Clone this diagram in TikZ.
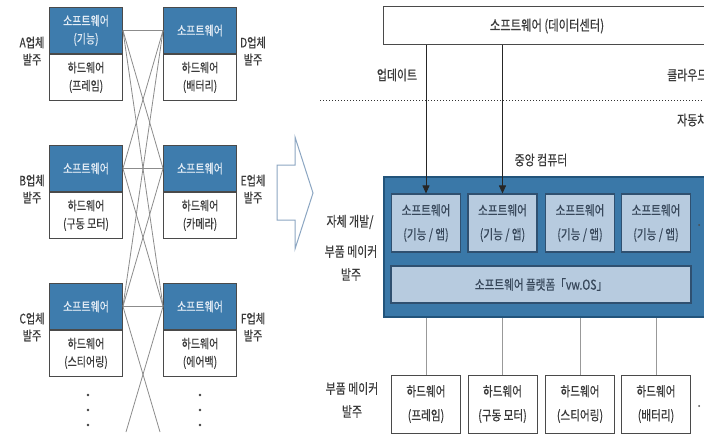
\documentclass[tikz,border=0pt]{standalone}
\usepackage{fontspec}
\setmainfont[FakeStretch=0.78,FakeBold=0.4]{Noto Sans CJK KR}
\usetikzlibrary{arrows.meta}
\definecolor{swblue}{HTML}{3E7CAD}
\definecolor{swtext}{HTML}{E3ECF5}
\definecolor{boxline}{HTML}{4A4A4A}
\definecolor{txtgrey}{HTML}{3A3A3A}
\definecolor{xgrey}{HTML}{8C8C8C}
\definecolor{bigblue}{HTML}{3A78A8}
\definecolor{bigline}{HTML}{22547B}
\definecolor{lightbox}{HTML}{B7CBDF}
\definecolor{lightline}{HTML}{2F5070}
\definecolor{lighttext}{HTML}{37475A}
\definecolor{arrowline}{HTML}{8CA6C2}
\tikzset{
  lswbox/.style={draw=boxline, line width=0.9pt, fill=swblue, text=swtext, minimum width=73pt, minimum height=46pt, inner sep=0pt, align=center, font=\fontsize{12.8}{18}\selectfont, anchor=north},
  lhwbox/.style={draw=boxline, line width=0.9pt, fill=white, text=txtgrey, minimum width=73pt, minimum height=46pt, inner sep=0pt, align=center, font=\fontsize{12.8}{18}\selectfont, anchor=north},
  lbl/.style={text=txtgrey, align=center, inner sep=0pt, font=\fontsize{13}{17}\selectfont},
  rlbl/.style={text=txtgrey, align=center, inner sep=0pt, font=\fontsize{14}{23}\selectfont},
  xline/.style={draw=xgrey, line width=0.8pt},
  topbox/.style={draw=boxline, line width=1pt, fill=white, text=txtgrey, minimum width=328pt, minimum height=38pt, inner sep=0pt, font=\fontsize{14.5}{16}\selectfont},
  bigbox/.style={draw=bigline, line width=1.6pt, fill=bigblue, minimum width=328pt, minimum height=140pt, inner sep=0pt},
  appbox/.style={draw=lightline, line width=1.1pt, fill=lightbox, text=lighttext, minimum width=69pt, minimum height=58pt, inner sep=0pt, align=center, font=\fontsize{13.6}{24}\selectfont},
  platbox/.style={draw=lightline, line width=1.1pt, fill=lightbox, text=lighttext, minimum width=300pt, minimum height=37pt, inner sep=0pt, font=\fontsize{13.6}{16}\selectfont},
  hwbox/.style={draw=boxline, line width=1pt, fill=white, text=txtgrey, minimum width=69pt, minimum height=58pt, inner sep=0pt, align=center, font=\fontsize{13.6}{24}\selectfont},
  dnarrow/.style={draw=black!85, line width=0.9pt, -{Triangle[length=8pt,width=7pt]}},
  hwline/.style={draw=black!40, line width=1pt},
}
\begin{document}
\begin{tikzpicture}[x=1pt,y=-1pt]
\useasboundingbox (0,0) rectangle (704,436);
\clip (0,0) rectangle (704,436);
\fill[white] (0,0) rectangle (704,436);

% ---------- left side ----------
\node[lswbox] (Asw) at (86,7) {소프트웨어\\(기능)};
\node[lhwbox] (Ahw) at (Asw.south) {하드웨어\\(프레임)};
\node[lswbox] (Bsw) at (86,145) {소프트웨어};
\node[lhwbox] (Bhw) at (Bsw.south) {하드웨어\\(구동 모터)};
\node[lswbox] (Csw) at (86,283) {소프트웨어};
\node[lhwbox] (Chw) at (Csw.south) {하드웨어\\(스티어링)};

\node[lswbox] (Dsw) at (200,7) {소프트웨어};
\node[lhwbox] (Dhw) at (Dsw.south) {하드웨어\\(배터리)};
\node[lswbox] (Esw) at (200,145) {소프트웨어};
\node[lhwbox] (Ehw) at (Esw.south) {하드웨어\\(카메라)};
\node[lswbox] (Fsw) at (200,283) {소프트웨어};
\node[lhwbox] (Fhw) at (Fsw.south) {하드웨어\\(에어백)};

\node[lbl] (Alab) at (32,51) {A업체\\발주};
\node[lbl] (Blab) at (32,189) {B업체\\발주};
\node[lbl] (Clab) at (32,327) {C업체\\발주};
\node[lbl] (Dlab) at (253,51) {D업체\\발주};
\node[lbl] (Elab) at (253,189) {E업체\\발주};
\node[lbl] (Flab) at (253,327) {F업체\\발주};

\foreach \l in {Asw,Bsw,Csw}{
  \foreach \r in {Dsw,Esw,Fsw}{
    \draw[xline] (\l.east) -- (\r.west);
  }
}
\coordinate (bl) at (126,432);
\coordinate (br) at (160,432);
\draw[xline] (Csw.east) -- (br);
\draw[xline] (Fsw.west) -- (bl);

\foreach \yy in {395,410,425}{
  \fill[black!75] (88,\yy) circle (1.3pt);
  \fill[black!75] (200,\yy) circle (1.3pt);
}

% ---------- block arrow ----------
\draw[draw=arrowline, line width=1pt, line join=miter]
  (277,165) -- (295,165) -- (295,137) -- (313,193) -- (295,249) -- (295,220) -- (277,220) -- cycle;

% ---------- right side ----------
\node[topbox] (dc) at (547,26) {소프트웨어 (데이터센터)};
\draw[draw=black!80, line width=1pt, dotted] (320,100) -- (704,100);
\node[rlbl] (upd) at (397,75) {업데이트};
\node[rlbl, anchor=west] (cloud) at (667,75) {클라우드};
\node[rlbl, anchor=west] (car) at (677,120) {자동차};
\node[rlbl] (cpu) at (541,160) {중앙 컴퓨터};

\node[bigbox] (ecu) at (548,247) {};
\node[appbox] (a1) at (426,223) {소프트웨어\\(기능 / 앱)};
\node[appbox] (a2) at (502.5,223) {소프트웨어\\(기능 / 앱)};
\node[appbox] (a3) at (580,223) {소프트웨어\\(기능 / 앱)};
\node[appbox] (a4) at (656,223) {소프트웨어\\(기능 / 앱)};
\node[platbox] (os) at (541,284.5) {소프트웨어 플랫폼「vw.OS」};

\draw[dnarrow] (dc.south -| a1.north) -- (a1.north);
\draw[dnarrow] (dc.south -| a2.north) -- (a2.north);

\node[hwbox] (h1) at (426,404) {하드웨어\\(프레임)};
\node[hwbox] (h2) at (502.5,404) {하드웨어\\(구동 모터)};
\node[hwbox] (h3) at (580,404) {하드웨어\\(스티어링)};
\node[hwbox] (h4) at (656,404) {하드웨어\\(배터리)};
\foreach \h in {h1,h2,h3,h4}{
  \draw[hwline] (ecu.south -| \h.north) -- (\h.north);
}

\fill[black!70] (699,225) circle (1pt);
\fill[black!70] (699,406) circle (1pt);

\node[rlbl] (own) at (350,222) {자체 개발/};
\node[rlbl] (maker1) at (351,263) {부품 메이커\\발주};
\node[rlbl] (maker2) at (352,400) {부품 메이커\\발주};
\end{tikzpicture}
\end{document}
